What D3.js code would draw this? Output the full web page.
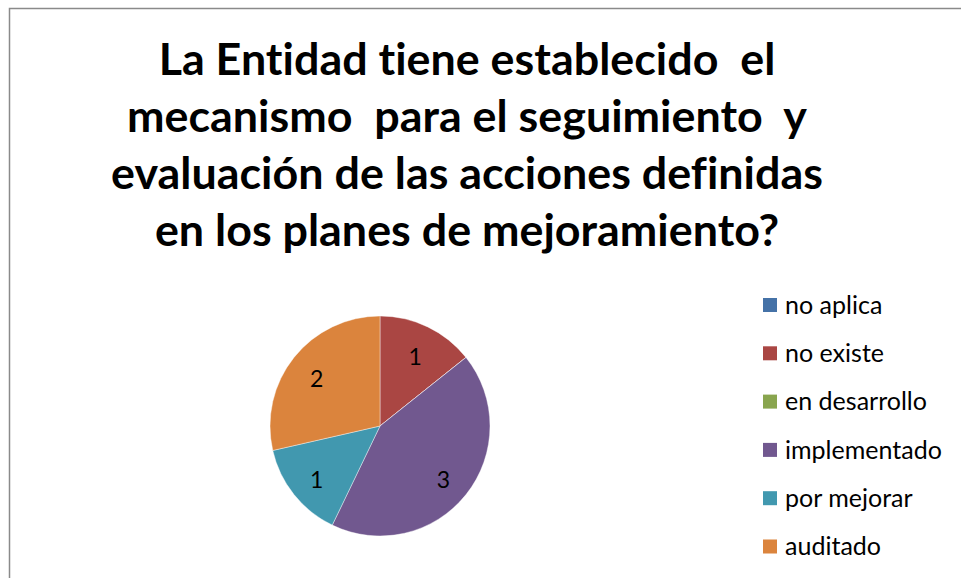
<!DOCTYPE html>
<html><head><meta charset="utf-8">
<script src="https://cdn.jsdelivr.net/npm/d3@7"></script>
<style>html,body{margin:0;padding:0;background:#fff;overflow:hidden} text{font-variant-ligatures:none;letter-spacing:0.01px}</style>
</head><body>
<svg id="chart" width="961" height="578"></svg>
<script>
const categories = ["no aplica","no existe","en desarrollo","implementado","por mejorar","auditado"];
const values = [0,1,0,3,1,2];
const colors = ["#4572A7","#AA4643","#89A54E","#71588F","#4198AF","#DB843D"];
const titleLines = ["La Entidad tiene establecido  el","mecanismo  para el seguimiento  y","evaluación de las acciones definidas","en los planes de mejoramiento?"];

const svg = d3.select("#chart");
const font = "Lato, 'Open Sans', sans-serif";

svg.append("rect").attr("x",9.5).attr("y",8.5).attr("width",1000).attr("height",700)
  .attr("fill","#fff").attr("stroke","#8a8a8a").attr("stroke-width",1.5);

// Title
const baselines = [75,132,189,246];
const tl = svg.append("g").selectAll("text").data(titleLines).join("text")
  .attr("x",467).attr("y",(d,i)=>baselines[i])
  .attr("text-anchor","middle").attr("font-family",font).attr("font-weight","bold")
  .attr("font-size",40).attr("fill","#000")
  .style("font-variant-ligatures","none").style("letter-spacing","0.01px")
  .attr("xml:space","preserve").style("white-space","pre").text(d=>d);
const w3 = tl.nodes()[2].getComputedTextLength();
tl.attr("font-size",40*712/w3);

// Pie
const cx=380, cy=426, R=110;
const pie = d3.pie().sort(null).value(d=>d);
const arcs = pie(values);
const arc = d3.arc().innerRadius(0).outerRadius(R);
const labelArc = d3.arc().innerRadius(81).outerRadius(81);
const g = svg.append("g").attr("transform",`translate(${cx},${cy})`);
g.selectAll("path").data(arcs).join("path")
  .attr("d",arc).attr("fill",(d,i)=>colors[i])
  .attr("stroke","rgba(255,255,255,0.5)").attr("stroke-width",0.8);
g.selectAll("text").data(arcs.filter(d=>d.data>0)).join("text")
  .attr("transform",d=>`translate(${labelArc.centroid(d)})`)
  .attr("text-anchor","middle").attr("dy","0.5em")
  .attr("font-family",font).attr("font-size",23).attr("fill","#000")
  .text(d=>d.data);

// Legend
const lg = svg.append("g");
const rowY = i => 305 + i*48.3;
lg.selectAll("rect").data(categories).join("rect")
  .attr("x",763).attr("y",(d,i)=>rowY(i)-7).attr("width",14).attr("height",14)
  .attr("fill",(d,i)=>colors[i]);
const lt = lg.selectAll("text").data(categories).join("text")
  .attr("x",785).attr("y",(d,i)=>rowY(i)).attr("dy","0.35em")
  .attr("font-family",font).attr("font-size",21).attr("fill","#000").text(d=>d);
const wi = lt.nodes()[3].getComputedTextLength();
lt.attr("font-size",21*157/wi);
</script>
</body></html>
